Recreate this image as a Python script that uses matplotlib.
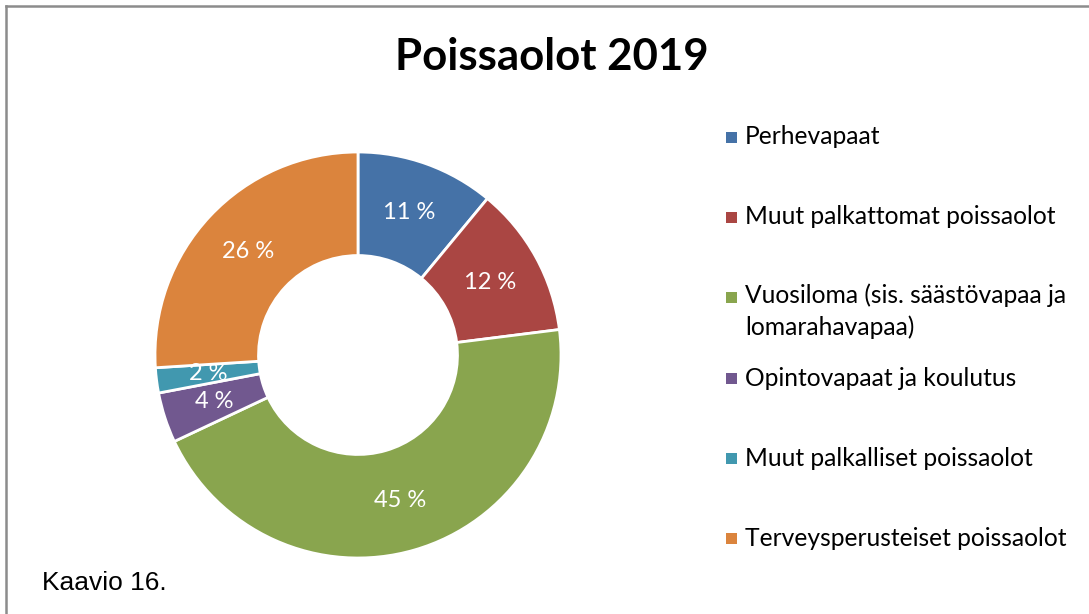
import matplotlib
matplotlib.use("Agg")
from matplotlib import pyplot as plt
from matplotlib.lines import Line2D
from matplotlib.patches import Rectangle

# data
categories = [
    "Perhevapaat",
    "Muut palkattomat poissaolot",
    "Vuosiloma (sis. säästövapaa ja\nlomarahavapaa)",
    "Opintovapaat ja koulutus",
    "Muut palkalliset poissaolot",
    "Terveysperusteiset poissaolot",
]
shares = [11, 12, 45, 4, 2, 26]
colors = ["#4572A7", "#AA4643", "#89A54E", "#71588F", "#4198AF", "#DB843D"]

W, H = 1089, 614
fig = plt.figure(figsize=(W / 100, H / 100), dpi=100)
fig.patch.set_facecolor("white")

# donut
cx, cy, r = 358, 355, 203
ax = fig.add_axes([(cx - r) / W, (H - cy - r) / H, 2 * r / W, 2 * r / H])
wedges, texts, autotexts = ax.pie(
    shares, colors=colors, startangle=90, counterclock=False, radius=1,
    autopct=lambda p: f"{p:.0f} %", pctdistance=0.745,
    wedgeprops=dict(width=0.51, edgecolor="white", linewidth=2),
    textprops=dict(color="white", fontsize=17, family="Lato"),
)
ax.set_xlim(-1, 1)
ax.set_ylim(-1, 1)
ax.set_aspect("equal")
ax.axis("off")

# title
fig.text(552 / W, 1 - 57 / H, "Poissaolot 2019", ha="center", va="center",
         fontsize=31.5, fontweight="bold", family="Lato")

# legend, drawn by hand to keep the Excel-like spacing
y = 137
for label, col in zip(categories, colors):
    fig.patches.append(Rectangle((726 / W, 1 - (y + 6) / H), 11 / W, 11 / H,
                                 transform=fig.transFigure, facecolor=col,
                                 edgecolor="none"))
    nlines = label.count("\n") + 1
    if nlines == 1:
        fig.text(745 / W, 1 - y / H, label, ha="left", va="center",
                 fontsize=17.7, family="Lato")
        y += 80
    else:
        fig.text(745 / W, 1 - (y - 14) / H, label, ha="left", va="top",
                 fontsize=17.7, family="Lato", linespacing=1.45)
        y += 81

# caption
fig.text(42 / W, 1 - 583 / H, "Kaavio 16.", ha="left", va="center",
         fontsize=19, family="Liberation Sans")

# frame (top and left edges only)
fig.lines.append(Line2D([6 / W, 1], [1 - 6 / H, 1 - 6 / H], transform=fig.transFigure,
                        color="#8c8c8c", linewidth=1.8))
fig.lines.append(Line2D([6 / W, 6 / W], [0, 1 - 6 / H], transform=fig.transFigure,
                        color="#8c8c8c", linewidth=1.8))

plt.savefig("out.png", dpi=100)
